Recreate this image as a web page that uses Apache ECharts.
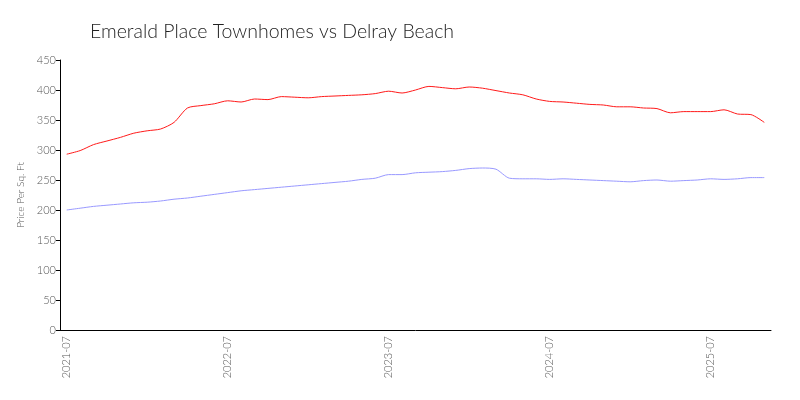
<!DOCTYPE html>
<html>
<head>
<meta charset="utf-8">
<script src="https://cdn.jsdelivr.net/npm/echarts@6/dist/echarts.min.js"></script>
<style>html,body{margin:0;padding:0;background:#fff}#c{width:800px;height:400px}</style>
</head>
<body>
<div id="c"></div>
<script>
const months = [
 '2021-07','2021-08','2021-09','2021-10','2021-11','2021-12',
 '2022-01','2022-02','2022-03','2022-04','2022-05','2022-06',
 '2022-07','2022-08','2022-09','2022-10','2022-11','2022-12',
 '2023-01','2023-02','2023-03','2023-04','2023-05','2023-06',
 '2023-07','2023-08','2023-09','2023-10','2023-11','2023-12',
 '2024-01','2024-02','2024-03','2024-04','2024-05','2024-06',
 '2024-07','2024-08','2024-09','2024-10','2024-11','2024-12',
 '2025-01','2025-02','2025-03','2025-04','2025-05','2025-06',
 '2025-07','2025-08','2025-09','2025-10','2025-11'
];
const emeraldPlace = [
 293,299,309,315,321,328,332,335,346,370,374,377,
 382,380,385,384,389,388,387,389,390,391,392,394,
 398,395,400,406,404,402,405,403,399,395,392,385,
 381,380,378,376,375,372,372,370,369,362,364,364,
 364,367,360,359,346
];
const delrayBeach = [
 200,203,206,208,210,212,213,215,218,220,223,226,
 229,232,234,236,238,240,242,244,246,248,251,253,
 259,259,262,263,264,266,269,270,268,253,252,252,
 251,252,251,250,249,248,247,249,250,248,249,250,
 252,251,252,254,254
];
const yTicks = { min: 0, max: 450, interval: 50 };
const FONT = 'Lato';

const chart = echarts.init(document.getElementById('c'));
chart.setOption({
  backgroundColor: '#fff',
  animation: false,
  title: {
    text: 'Emerald Place Townhomes vs Delray Beach',
    left: 85, top: 17,
    textStyle: { fontFamily: FONT, fontWeight: 300, fontSize: 19.5, color: '#222' }
  },
  grid: { left: 60, right: 29, top: 60, bottom: 70 },
  xAxis: [
    {
      type: 'category', data: months, boundaryGap: true,
      axisLine: { lineStyle: { color: '#000', width: 1 } },
      axisTick: { interval: 0, alignWithLabel: true, length: 3, lineStyle: { color: '#bbb' } },
      axisLabel: { show: false },
      splitLine: { show: false }
    },
    {
      type: 'category', data: months, boundaryGap: true, position: 'bottom',
      axisLine: { show: false },
      axisTick: { interval: 11, alignWithLabel: true, length: 5, lineStyle: { color: '#000' } },
      axisLabel: { interval: 11, rotate: 90, color: '#555', fontFamily: FONT, fontWeight: 300, fontSize: 11, margin: 6 },
      splitLine: { show: false }
    }
  ],
  yAxis: {
    type: 'value', min: yTicks.min, max: yTicks.max, interval: yTicks.interval,
    name: 'Price Per Sq. Ft', nameLocation: 'middle', nameGap: 27,
    nameTextStyle: { color: '#555', fontFamily: FONT, fontWeight: 300, fontSize: 10 },
    axisLine: { show: true, lineStyle: { color: '#000' } },
    axisTick: { show: true, length: 4, lineStyle: { color: '#000' } },
    axisLabel: { color: '#555', fontFamily: FONT, fontWeight: 300, fontSize: 11, margin: 4 },
    splitLine: { show: false }
  },
  series: [
    {
      name: 'Emerald Place Townhomes', type: 'line', data: emeraldPlace,
      xAxisIndex: 0, showSymbol: false, smooth: 0.25,
      lineStyle: { color: '#ff1a1a', width: 1 }, itemStyle: { color: '#ff1a1a' }
    },
    {
      name: 'Delray Beach', type: 'line', data: delrayBeach,
      xAxisIndex: 0, showSymbol: false, smooth: 0.25,
      lineStyle: { color: '#9999ff', width: 1 }, itemStyle: { color: '#9999ff' }
    }
  ]
});
</script>
</body>
</html>
